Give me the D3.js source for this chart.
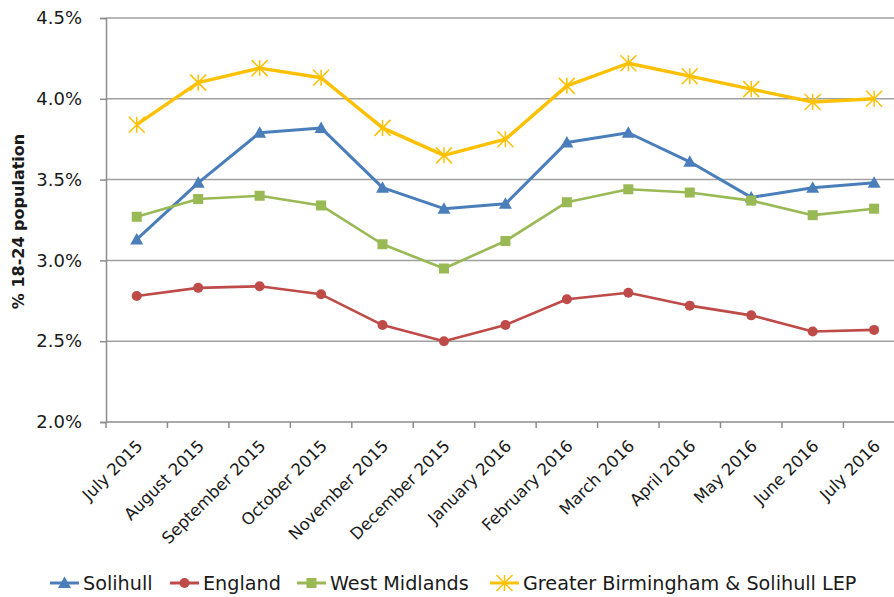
<!DOCTYPE html>
<html>
<head>
<meta charset="utf-8">
<script src="https://cdn.jsdelivr.net/npm/d3@7/dist/d3.min.js"></script>
<style>
  html, body { margin: 0; padding: 0; background: #fff; }
  svg { display: block; }
  text { font-family: "DejaVu Sans", sans-serif; fill: #1a1a1a; }
</style>
</head>
<body>
<svg id="chart" width="894" height="597"></svg>
<script>
const months = ["July 2015","August 2015","September 2015","October 2015","November 2015","December 2015","January 2016","February 2016","March 2016","April 2016","May 2016","June 2016","July 2016"];
const solihull = [3.13,3.48,3.79,3.82,3.45,3.32,3.35,3.73,3.79,3.61,3.39,3.45,3.48];
const england = [2.78,2.83,2.84,2.79,2.60,2.50,2.60,2.76,2.80,2.72,2.66,2.56,2.57];
const westMidlands = [3.27,3.38,3.40,3.34,3.10,2.95,3.12,3.36,3.44,3.42,3.37,3.28,3.32];
const gbsLep = [3.84,4.10,4.19,4.13,3.82,3.65,3.75,4.08,4.22,4.14,4.06,3.98,4.00];
const yTicks = [2.0,2.5,3.0,3.5,4.0,4.5];

const series = [
  {name:"Solihull", values:solihull, color:"#4a7ebb", marker:"triangle", width:3},
  {name:"England", values:england, color:"#be4b48", marker:"circle", width:2.6},
  {name:"West Midlands", values:westMidlands, color:"#98b954", marker:"square", width:2.6},
  {name:"Greater Birmingham & Solihull LEP", values:gbsLep, color:"#ffc000", marker:"star", width:3.4}
];

const svg = d3.select("#chart");
const plotLeft = 106, plotRight = 106 + 13*61.45, plotTop = 18, plotBottom = 422;

const x = d3.scaleBand().domain(months).range([plotLeft, plotRight]).padding(0);
const y = d3.scaleLinear().domain([2.0, 4.5]).range([plotBottom, plotTop]);
const cx = m => x(m) + x.bandwidth()/2;

// gridlines
svg.append("g").selectAll("line").data(yTicks.filter(t => t > 2.0)).join("line")
  .attr("x1", plotLeft).attr("x2", 894)
  .attr("y1", d => y(d)).attr("y2", d => y(d))
  .attr("stroke", "#a0a0a0").attr("stroke-width", 1.5);

// y axis
const yAxis = d3.axisLeft(y).tickValues(yTicks).tickFormat(d => d3.format(".1f")(d) + "%").tickSize(6).tickPadding(18);
const yg = svg.append("g").attr("transform", `translate(${plotLeft},0)`).call(yAxis);
yg.select(".domain").attr("stroke", "#8c8c8c").attr("stroke-width", 1.5);
yg.selectAll(".tick line").attr("stroke", "#8c8c8c").attr("stroke-width", 1.5);
yg.selectAll(".tick text").style("font-size", "18px").style("font-family", "DejaVu Sans").attr("fill", "#1a1a1a");

// x axis
svg.append("line").attr("x1", plotLeft).attr("x2", 894).attr("y1", plotBottom).attr("y2", plotBottom)
  .attr("stroke", "#8c8c8c").attr("stroke-width", 1.5);
const boundaries = months.map(m => x(m)).concat([plotRight]);
svg.append("g").selectAll("line").data(boundaries).join("line")
  .attr("x1", d => d).attr("x2", d => d).attr("y1", plotBottom).attr("y2", plotBottom + 6)
  .attr("stroke", "#8c8c8c").attr("stroke-width", 1.5);
svg.append("g").selectAll("text").data(months).join("text")
  .attr("transform", d => `translate(${cx(d) + 7},${plotBottom + 25}) rotate(-45)`)
  .attr("text-anchor", "end")
  .style("font-size", "16.5px")
  .text(d => d);

// y title
svg.append("text")
  .attr("transform", `translate(24,${(128+315)/2}) rotate(-90)`)
  .attr("text-anchor", "middle")
  .style("font-size", "16px").style("font-weight", "bold")
  .text("% 18-24 population");

function drawMarker(g, type, color, px, py) {
  if (type === "triangle") {
    g.append("path").attr("d", `M${px},${py-6.5} L${px+6.5},${py+5} L${px-6.5},${py+5} Z`).attr("fill", color);
  } else if (type === "circle") {
    g.append("circle").attr("cx", px).attr("cy", py).attr("r", 5).attr("fill", color);
  } else if (type === "square") {
    g.append("rect").attr("x", px-5).attr("y", py-5).attr("width", 10).attr("height", 10).attr("fill", color);
  } else if (type === "star") {
    const s = 8;
    g.append("path").attr("d", `M${px-s},${py-s} L${px+s},${py+s} M${px+s},${py-s} L${px-s},${py+s} M${px},${py-s} L${px},${py+s}`)
      .attr("stroke", color).attr("stroke-width", 1.5).attr("fill", "none");
  }
}

const line = d3.line().x(d => cx(d.m)).y(d => y(d.v));
series.forEach(s => {
  const pts = months.map((m, i) => ({m, v: s.values[i]}));
  const g = svg.append("g");
  g.append("path").datum(pts).attr("d", line)
    .attr("fill", "none").attr("stroke", s.color).attr("stroke-width", s.width).attr("stroke-linejoin", "round");
  pts.forEach(p => drawMarker(g, s.marker, s.color, cx(p.m), y(p.v)));
});

// legend
const legendX = [50, 170, 297, 490];
const ly = 583;
series.forEach((s, i) => {
  const g = svg.append("g");
  const lx = legendX[i];
  g.append("line").attr("x1", lx).attr("x2", lx + 29).attr("y1", ly).attr("y2", ly)
    .attr("stroke", s.color).attr("stroke-width", 3);
  drawMarker(g, s.marker, s.color, lx + 14.5, ly);
  g.append("text").attr("x", lx + 33).attr("y", ly).attr("dy", "0.36em")
    .style("font-size", "19.2px").text(s.name);
});
</script>
</body>
</html>
